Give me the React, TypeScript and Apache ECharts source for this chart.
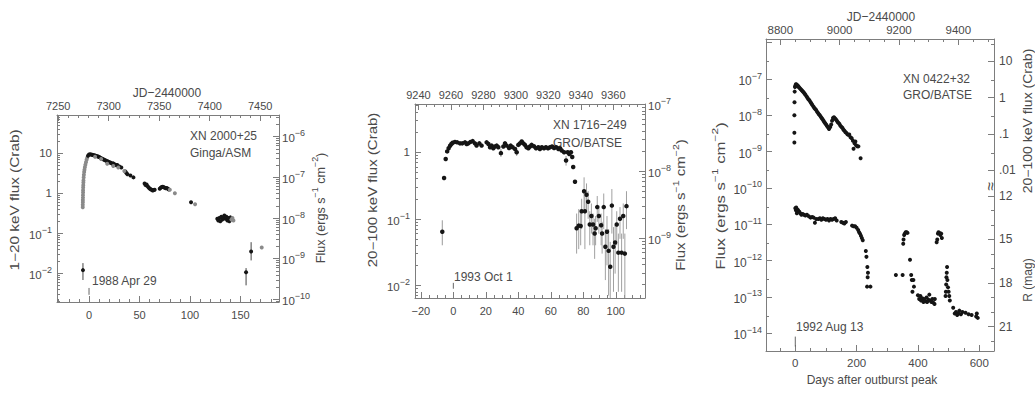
import React, { useEffect, useRef } from "react";
import * as echarts from "echarts";

// ---------------- Panel A: XN 2000+25 (Ginga/ASM) — days after 1988 Apr 29, 1–20 keV flux (Crab)
const gingaRise: number[][] = [
  [-6.2, 0.45], [-6.2, 0.52], [-6.1, 0.6], [-6.1, 0.68], [-6.0, 0.78], [-6.0, 0.9], [-5.9, 1.05],
  [-5.9, 1.2], [-5.8, 1.4], [-5.7, 1.6], [-5.6, 1.85], [-5.5, 2.1], [-5.3, 2.5], [-5.1, 2.9],
  [-4.8, 3.4], [-4.5, 3.9], [-4.1, 4.5], [-3.6, 5.2], [-3.0, 6.0], [-2.4, 6.9], [-1.8, 7.7],
];
const gingaDecay: number[][] = [
  [-1, 8.7], [0, 9.3], [1, 9.4], [2, 9.3], [3, 9.2], [4, 9.0], [5, 8.9], [6, 8.8], [7, 8.6], [8, 8.4],
  [9, 8.3], [10, 8.1], [11, 7.8], [12, 7.5], [13, 7.3], [14, 7.1], [15, 6.9], [16, 6.7], [17, 6.5],
  [18, 6.3], [19, 6.2], [20, 6.0], [21, 5.9], [22, 5.7], [23, 5.5], [24, 5.6], [25, 5.3], [26, 5.2],
  [27, 5.0], [28, 5.1], [30, 4.7], [32, 4.4], [36, 3.5], [37, 3.2], [38, 3.0], [41, 2.8], [44, 2.5],
  [55, 1.75], [56, 1.6], [57, 1.65], [58, 1.5], [59, 1.4], [60, 1.32], [61, 1.27], [62, 1.22],
  [63, 1.18], [64, 1.2], [65, 1.22], [70, 1.3], [71, 1.38], [72, 1.43], [73, 1.46], [74, 1.42],
  [75, 1.38], [76, 1.33], [77, 1.36], [78, 1.3], [79, 1.25], [101, 0.6],
  [127, 0.23], [128, 0.21], [129, 0.24], [130, 0.2], [131, 0.26], [132, 0.22], [133, 0.25],
  [134, 0.28], [135, 0.23], [136, 0.26], [137, 0.21], [138, 0.24], [139, 0.2], [140, 0.25],
];
const gingaGray: number[][] = [
  [6, 8.2], [12, 7.2], [18, 5.5], [24, 4.8], [29, 4.4], [35, 3.6], [80, 1.22], [85, 1.0],
  [105, 0.53], [141, 0.22], [142, 0.24], [143, 0.21], [171, 0.044],
];
// [day, flux, lower, upper]
const gingaFaint: number[][] = [
  [-6, 0.012, 0.0068, 0.018], [155.5, 0.0106, 0.005, 0.0135], [160.5, 0.035, 0.021, 0.06],
];
const gingaEpoch: number[][] = [[0, 0.0029, 0.0043]];

// ---------------- Panel B: XN 1716-249 (GRO/BATSE) — days after 1993 Oct 1, 20–100 keV flux (Crab)
const batseMain: number[][] = [
  [-6.8, 0.064], [-5.7, 0.41], [-4.7, 0.79], [-3.8, 1.03], [-2.9, 1.15], [-2, 1.25], [-1.2, 1.33],
  [-0.4, 1.39], [1, 1.43], [2.4, 1.41], [4.1, 1.36], [5.5, 1.36], [7.2, 1.41], [8.2, 1.33],
  [9.2, 1.36], [10.6, 1.43], [11.9, 1.47], [13.3, 1.36], [14.3, 1.26], [16, 1.36], [17.4, 1.26],
  [20.5, 1.41], [21.6, 1.33], [22.6, 1.19], [23.6, 1.26], [24.6, 1.15], [25.7, 1.22], [26.7, 1.26],
  [27.7, 1.19], [29.3, 0.97], [30.8, 1.22], [31.8, 1.36], [32.8, 1.26], [34.3, 1.16], [35.3, 1.26],
  [36.5, 1.19], [38, 1.12], [39, 1.0], [40, 1.29], [41, 1.36], [42.1, 1.45], [43.1, 1.36],
  [44.1, 1.29], [45.1, 1.19], [46.2, 1.15], [47.2, 1.22], [48.2, 1.29], [49.6, 1.23], [50.9, 1.15],
  [52.3, 1.19], [53.3, 1.12], [54.5, 1.19], [55.8, 1.15], [57, 1.19], [58.3, 1.15], [59.5, 1.19],
  [60.8, 1.22], [62, 1.16], [63.3, 1.19], [64.7, 1.12], [65.7, 1.15], [66.7, 1.06], [68.2, 1.0],
  [69.4, 0.75], [70.4, 1.0], [71.4, 0.94], [72.4, 1.0], [73.2, 0.85], [73.8, 0.6], [74.9, 0.36],
];
const batsePlateauErr: number[][] = [
  [-6.8, 0.04, 0.095], [29.3, 0.85, 1.12], [39, 0.88, 1.12], [69.4, 0.63, 0.88],
];
// [day, flux, lower, upper]
const batseDecline: number[][] = [
  [75.9, 0.072, 0.03, 0.12], [77.2, 0.079, 0.035, 0.14], [78.4, 0.078, 0.04, 0.13],
  [79.0, 0.13, 0.07, 0.2], [80.5, 0.26, 0.14, 0.42], [81.0, 0.13, 0.035, 0.22],
  [82.0, 0.23, 0.13, 0.34], [83.0, 0.18, 0.1, 0.26], [84.0, 0.082, 0.04, 0.13],
  [85.0, 0.11, 0.06, 0.17], [86.0, 0.082, 0.04, 0.12], [87.0, 0.06, 0.025, 0.1],
  [87.6, 0.072, 0.04, 0.11], [88.6, 0.15, 0.09, 0.22], [89.6, 0.11, 0.06, 0.16],
  [91.0, 0.08, 0.04, 0.12], [91.6, 0.06, 0.03, 0.09], [92.6, 0.15, 0.07, 0.24],
  [93.6, 0.038, 0.012, 0.07], [94.6, 0.064, 0.02, 0.11], [95.6, 0.033, 0.007, 0.07],
  [96.6, 0.019, 0.004, 0.045], [97.6, 0.158, 0.06, 0.28], [98.6, 0.038, 0.008, 0.075],
  [99.6, 0.044, 0.015, 0.08], [100.6, 0.082, 0.04, 0.13], [101.6, 0.031, 0.008, 0.06],
  [102.6, 0.1, 0.05, 0.15], [103.6, 0.031, 0.008, 0.06], [104.6, 0.11, 0.05, 0.17],
  [105.6, 0.03, 0.006, 0.06], [106.6, 0.155, 0.07, 0.26],
];
const batseEpoch: number[][] = [[0, 0.0089, 0.0109]];

// ---------------- Panel C: XN 0422+32 (GRO/BATSE) — days after 1992 Aug 13
// X-ray flux (ergs s^-1 cm^-2)
const groXray: number[][] = [
  [-3, 1.8e-9], [-3, 3.3e-9], [-3, 1.0e-8], [-2.5, 2.3e-8], [-2, 4.5e-8], [-1, 6.0e-8],
  [0, 6.4e-8], [2, 7.2e-8], [4, 7.1e-8], [6, 6.8e-8], [8, 6.5e-8], [10, 6.2e-8], [12, 5.9e-8],
  [15, 5.6e-8], [18, 5.2e-8], [21, 4.9e-8], [24, 4.6e-8], [27, 4.3e-8], [30, 4.0e-8], [33, 3.7e-8],
  [37, 3.3e-8], [40, 3.0e-8], [43, 2.75e-8], [46, 2.6e-8], [49, 2.35e-8], [52, 2.15e-8],
  [55, 1.95e-8], [59, 1.75e-8], [62, 1.6e-8], [65, 1.5e-8], [68, 1.4e-8], [71, 1.25e-8],
  [74, 1.17e-8], [77, 1.07e-8], [80, 1.0e-8], [83, 9.1e-9], [86, 8.5e-9], [89, 7.8e-9],
  [92, 7.1e-9], [95, 6.5e-9], [98, 6.0e-9], [101, 5.5e-9], [104, 5.0e-9], [107, 4.6e-9],
  [110, 4.2e-9], [114, 4.8e-9], [117, 5.6e-9], [120, 7.1e-9], [123, 8.5e-9], [126, 8.9e-9],
  [129, 8.3e-9], [132, 7.8e-9], [135, 7.2e-9], [138, 6.6e-9], [141, 6.2e-9], [144, 5.8e-9],
  [147, 5.2e-9], [151, 4.8e-9], [154, 4.5e-9], [157, 4.0e-9], [160, 3.8e-9], [163, 3.5e-9],
  [166, 3.3e-9], [170, 3.0e-9], [173, 2.9e-9], [176, 2.95e-9], [180, 2.5e-9], [184, 2.35e-9],
  [188, 2.0e-9], [190, 1.2e-9], [193, 1.7e-9], [196, 1.9e-9], [198, 1.5e-9], [202, 1.4e-9],
  [206, 1.4e-9], [213, 6.6e-10],
];
// optical R magnitude
const opticalR: number[][] = [
  [0, 12.85], [2, 13.0], [3, 12.8], [5, 13.2], [8, 12.95], [10, 13.05], [13, 13.1], [16, 13.2],
  [20, 13.3], [24, 13.25], [28, 13.3], [33, 13.35], [38, 13.3], [44, 13.4], [50, 13.5], [55, 13.45],
  [60, 13.5], [64, 13.85], [68, 13.6], [75, 13.6], [80, 13.55], [85, 13.65], [90, 13.55], [95, 13.6],
  [100, 13.65], [105, 13.6], [110, 13.7], [115, 13.6], [120, 13.65], [125, 13.6], [130, 13.55],
  [135, 13.7], [150, 13.8], [155, 13.85], [160, 13.9], [165, 13.8], [185, 14.05], [190, 14.1],
  [195, 14.1], [200, 14.2], [205, 14.35], [208, 14.5], [211, 14.6], [214, 14.75], [217, 14.9],
  [220, 15.05], [230, 15.8], [232, 16.2], [235, 16.9], [237, 17.3], [236, 17.6], [234, 18.25],
  [245, 18.25], [328, 17.45], [350, 17.45], [352, 15.3], [353, 15.0], [355, 14.7], [357, 14.6],
  [360, 14.5], [363, 14.5], [366, 14.55], [374, 16.4], [378, 17.45], [380, 17.8], [385, 17.8],
  [387, 18.25], [382, 18.6], [400, 18.85], [404, 19.1], [408, 18.9], [410, 19.2], [414, 19.05],
  [418, 19.3], [420, 19.1], [424, 19.25], [428, 19.0], [430, 19.3], [434, 19.15], [437, 18.8],
  [440, 19.2], [444, 19.3], [447, 19.1], [450, 19.35], [454, 19.45], [455, 19.1], [461, 15.2],
  [463, 15.0], [465, 14.6], [467, 14.5], [470, 14.55], [473, 14.7], [476, 14.6], [478, 14.9],
  [490, 18.9], [491, 18.6], [492, 18.1], [493, 17.6], [494, 17.3], [495, 16.9], [496, 17.8],
  [498, 18.3], [500, 18.6], [502, 18.9], [504, 19.2], [515, 19.7], [520, 20.1], [524, 20.0],
  [528, 20.2], [532, 20.1], [535, 19.9], [540, 20.15], [545, 20.0], [555, 20.05], [565, 20.15],
  [575, 20.2], [590, 20.3], [592, 20.1], [595, 20.4],
];
const groEpoch: number[][] = [[0, 4.3e-15, 8.1e-15]];

// ---------------- tick values
const aDayTicks = [0, 50, 100, 150];
const aJdTicks = [7250, 7300, 7350, 7400, 7450];
const aCrabTicks = [0.01, 0.1, 1, 10];
const aFluxTicks = [1e-10, 1e-9, 1e-8, 1e-7, 1e-6];
const bDayTicks = [-20, 0, 20, 40, 60, 80, 100];
const bJdTicks = [9240, 9260, 9280, 9300, 9320, 9340, 9360];
const bCrabTicks = [0.01, 0.1, 1];
const bFluxTicks = [1e-9, 1e-8, 1e-7];
const cDayTicks = [0, 200, 400, 600];
const cJdTicks = [8800, 9000, 9200, 9400];
const cFluxTicks = [1e-14, 1e-13, 1e-12, 1e-11, 1e-10, 1e-9, 1e-8, 1e-7];
const cCrabTicks = [10, 1, 0.1, 0.01];
const cMagTicks = [12, 15, 18, 21];

// ---------------- helpers
const FONT = '"Liberation Sans", Arial, Helvetica, sans-serif';
const TXT = "#4a4a4a";
const AX = "#7d7d7d";

const steps = (a: number, b: number, s: number) => {
  const r: number[] = [];
  for (let v = a; v <= b + 1e-9; v += s) r.push(Math.round(v * 1e6) / 1e6);
  return r;
};
const minus = (arr: number[], ex: number[]) => arr.filter((v) => !ex.some((e) => Math.abs(e - v) < 1e-9));
const logMinors = (n0: number, n1: number, mults: number[]) => {
  const r: number[] = [];
  for (let n = n0; n <= n1; n++) for (const m of mults) r.push(m * Math.pow(10, n));
  return r;
};
const ALL = [2, 3, 4, 5, 6, 7, 8, 9];

const makeRich = (size: number) => ({
  b: { fontSize: size, fontFamily: FONT, color: TXT, lineHeight: size + 4, verticalAlign: "bottom" },
  s: { fontSize: Math.round(size * 0.74), fontFamily: FONT, color: TXT, lineHeight: 6, verticalAlign: "top" },
});
const pow10 = (v: number) => {
  const e = Math.round(Math.log10(v));
  return `{b|10}{s|${e < 0 ? "\u2212" : ""}${Math.abs(e)}}`;
};
const crabFmt = (v: number) => {
  const e = Math.round(Math.log10(v));
  if (e === 1) return "10";
  if (e === 0) return "1";
  return pow10(v);
};
const numFmt = (v: number) => (v < 0 ? "\u2212" + Math.abs(v) : String(v));
const dotFmt = (v: number) => {
  const e = Math.round(Math.log10(v));
  return e === 1 ? "10" : e === 0 ? "1" : e === -1 ? ".1" : ".01";
};

function axisPair(o: {
  grid: number; pos: string; type: string; min: number; max: number; majors: number[];
  labels?: number[]; minors: number[]; fmt?: any; margin?: number; line?: boolean; inverse?: boolean; size?: number;
}) {
  const size = o.size ?? 11;
  const base: any = {
    type: o.type, gridIndex: o.grid, position: o.pos, min: o.min, max: o.max,
    inverse: !!o.inverse, splitLine: { show: false }, splitArea: { show: false },
  };
  if (o.type === "log") base.logBase = 10;
  const major = {
    ...base,
    axisLine: { show: o.line !== false, onZero: false, lineStyle: { color: AX, width: 1 } },
    axisTick: { show: true, inside: true, length: 6, customValues: o.majors, lineStyle: { color: AX, width: 1 } },
    axisLabel: o.labels
      ? { show: true, customValues: o.labels, margin: o.margin ?? 5, color: TXT, fontSize: size, fontFamily: FONT, formatter: o.fmt, rich: makeRich(size) }
      : { show: false },
  };
  const minor = {
    ...base,
    axisLine: { show: false, onZero: false },
    axisTick: { show: true, inside: true, length: 3, customValues: o.minors, lineStyle: { color: AX, width: 1 } },
    axisLabel: { show: false },
  };
  return [major, minor];
}

const errRender = (color: string) => (params: any, api: any) => {
  const x = api.value(0);
  const a = api.coord([x, api.value(1)]);
  const b = api.coord([x, api.value(2)]);
  const cs = params.coordSys;
  const clamp = (y: number) => Math.min(Math.max(y, cs.y), cs.y + cs.height);
  return {
    type: "line",
    silent: true,
    shape: { x1: a[0], y1: clamp(a[1]), x2: b[0], y2: clamp(b[1]) },
    style: { stroke: color, lineWidth: 1 },
  };
};

function buildOption() {
  const grids = [
    { left: 57, top: 115, width: 222, height: 187 },
    { left: 415, top: 104, width: 230, height: 194 },
    { left: 766, top: 39, width: 228, height: 312 },
  ].map((g) => ({ ...g, outerBoundsMode: "none", containLabel: false, show: false }));

  const xAxis = [
    // panel A: 0..3
    ...axisPair({ grid: 0, pos: "bottom", type: "value", min: -31.7, max: 188.1, majors: aDayTicks, labels: aDayTicks, minors: minus(steps(-30, 180, 10), aDayTicks), fmt: numFmt, margin: 7 }),
    ...axisPair({ grid: 0, pos: "top", type: "value", min: 7248.8, max: 7468.6, majors: aJdTicks, labels: aJdTicks, minors: minus(steps(7250, 7460, 10), aJdTicks), fmt: numFmt, margin: 4 }),
    // panel B: 4..7
    ...axisPair({ grid: 1, pos: "bottom", type: "value", min: -23.6, max: 118, majors: bDayTicks, labels: bDayTicks, minors: minus(steps(-20, 115, 5), bDayTicks), fmt: numFmt, margin: 7 }),
    ...axisPair({ grid: 1, pos: "top", type: "value", min: 9237.9, max: 9379.5, majors: bJdTicks, labels: bJdTicks, minors: minus(steps(9240, 9375, 5), bJdTicks), fmt: numFmt, margin: 4 }),
    // panel C: 8..11
    ...axisPair({ grid: 2, pos: "bottom", type: "value", min: -95.5, max: 648, majors: cDayTicks, labels: cDayTicks, minors: minus(steps(-50, 640, 50), cDayTicks), fmt: numFmt, margin: 6, size: 11.5 }),
    ...axisPair({ grid: 2, pos: "top", type: "value", min: 8751.8, max: 9520.3, majors: cJdTicks, labels: cJdTicks, minors: minus(steps(8800, 9500, 50), cJdTicks), fmt: numFmt, margin: 3, size: 11.5 }),
  ];

  const yAxis = [
    // panel A: 0..3
    ...axisPair({ grid: 0, pos: "left", type: "log", min: 0.001917, max: 90.7, majors: aCrabTicks, labels: aCrabTicks, minors: logMinors(-3, 1, ALL), fmt: crabFmt, margin: 5, size: 11.5 }),
    ...axisPair({ grid: 0, pos: "right", type: "log", min: 8.59e-11, max: 3.42e-6, majors: aFluxTicks, labels: aFluxTicks, minors: logMinors(-11, -6, ALL), fmt: pow10, margin: 3, size: 11.5 }),
    // panel B: 4..7
    ...axisPair({ grid: 1, pos: "left", type: "log", min: 0.006457, max: 5.31, majors: bCrabTicks, labels: bCrabTicks, minors: logMinors(-3, 0, ALL), fmt: crabFmt, margin: 5, size: 11.5 }),
    ...axisPair({ grid: 1, pos: "right", type: "log", min: 1.26e-10, max: 1.012e-7, majors: bFluxTicks, labels: bFluxTicks, minors: logMinors(-10, -8, ALL), fmt: pow10, margin: 3, size: 11.5 }),
    // panel C: 8..13
    ...axisPair({ grid: 2, pos: "left", type: "log", min: 3.25e-15, max: 1.265e-6, majors: [...cFluxTicks, 1e-6], labels: cFluxTicks, minors: logMinors(-15, -7, [3]), fmt: pow10, margin: 4, size: 12 }),
    ...axisPair({ grid: 2, pos: "right", type: "log", min: 1.064e-7, max: 41.4, majors: cCrabTicks, labels: cCrabTicks, minors: [30, 3, 0.3, 0.03], fmt: dotFmt, margin: 5, size: 12 }),
    ...axisPair({ grid: 2, pos: "right", type: "value", inverse: true, line: false, min: 1.205, max: 22.68, majors: cMagTicks, labels: cMagTicks, minors: [13, 14, 16, 17, 19, 20, 22], fmt: (v: number) => String(v), margin: 5, size: 12 }),
  ];

  const dot = (name: string, xi: number, yi: number, data: number[][], color: string, size = 4) => ({
    name, type: "scatter", xAxisIndex: xi, yAxisIndex: yi, data, symbol: "circle", symbolSize: size,
    itemStyle: { color, opacity: 1 }, z: 3, silent: true,
  });
  const bars = (name: string, xi: number, yi: number, data: number[][], color: string) => ({
    name, type: "custom", coordinateSystem: "cartesian2d", xAxisIndex: xi, yAxisIndex: yi, data,
    encode: { x: 0, y: [1, 2] }, renderItem: errRender(color), z: 2, silent: true,
  });

  const series = [
    dot("Ginga rise", 0, 0, gingaRise, "#8a8a8a"),
    dot("Ginga decay", 0, 0, gingaDecay, "#151515"),
    dot("Ginga grey", 0, 0, gingaGray, "#8a8a8a"),
    bars("Ginga faint err", 0, 0, gingaFaint.map((p) => [p[0], p[2], p[3]]), "#444"),
    dot("Ginga faint", 0, 0, gingaFaint.map((p) => [p[0], p[1]]), "#151515"),
    bars("Ginga epoch", 0, 0, gingaEpoch, "#666"),

    bars("BATSE plateau err", 4, 4, batsePlateauErr, "#9a9a9a"),
    dot("BATSE main", 4, 4, batseMain, "#151515", 4.5),
    bars("BATSE decline err", 4, 4, batseDecline.map((p) => [p[0], p[2], p[3]]), "#a0a0a0"),
    dot("BATSE decline", 4, 4, batseDecline.map((p) => [p[0], p[1]]), "#151515", 4.5),
    bars("BATSE epoch", 4, 4, batseEpoch, "#666"),

    dot("GRO X-ray", 8, 8, groXray, "#151515", 4),
    dot("Optical R", 8, 12, opticalR, "#151515", 4),
    bars("GRO epoch", 8, 8, groEpoch, "#666"),
  ];

  const txt = (text: string, x: number, y: number, opts: any = {}) => ({
    type: "text", x, y, rotation: opts.rot ?? 0, silent: true,
    scaleX: opts.sx ?? 1, scaleY: opts.sy ?? 1,
    style: {
      text, fill: TXT, fontSize: opts.size ?? 12, fontFamily: FONT,
      align: opts.align ?? "left", verticalAlign: "middle", rich: opts.rich,
    },
  });
  const TR = {
    t: { fontSize: 12, fontFamily: FONT, fill: TXT, color: TXT, lineHeight: 16, verticalAlign: "bottom" },
    u: { fontSize: 8.5, fontFamily: FONT, fill: TXT, color: TXT, lineHeight: 6, verticalAlign: "top" },
  };
  const fluxTitle = "{t|Flux (ergs s}{u|\u22121}{t| cm}{u|\u22122}{t|)}";
  const R90 = Math.PI / 2;

  const graphic = [
    // panel A
    txt("JD\u22122440000", 167, 93, { align: "center", sy: 1.1 }),
    txt("1\u221220 keV flux (Crab)", 15, 200, { align: "center", rot: R90, sx: 1.28 }),
    txt(fluxTitle, 319, 208, { align: "center", rot: R90, rich: TR, sx: 1.05 }),
    txt("XN 2000+25", 190, 136, { sy: 1.1 }),
    txt("Ginga/ASM", 190, 153, { sy: 1.1 }),
    txt("1988 Apr 29", 92, 281, { sy: 1.1 }),
    // panel B
    txt("20\u2212100 keV flux (Crab)", 373, 190, { align: "center", rot: R90, sx: 1.25 }),
    txt(fluxTitle, 679, 205, { align: "center", rot: R90, rich: TR, sx: 1.25 }),
    txt("XN 1716\u2212249", 553, 125, { sy: 1.1 }),
    txt("GRO/BATSE", 553, 143, { sy: 1.1 }),
    txt("1993 Oct 1", 454, 277, { sy: 1.1 }),
    // panel C
    txt("JD\u22122440000", 881, 17, { align: "center", sy: 1.1 }),
    txt("Days after outburst peak", 872, 380, { align: "center", sy: 1.1 }),
    txt(fluxTitle, 719, 196, { align: "center", rot: R90, rich: TR, sx: 1.4 }),
    txt("20\u2212100 keV flux (Crab)", 1028, 121, { align: "center", rot: R90, sx: 1.17 }),
    txt("R (mag)", 1028, 280, { align: "center", rot: R90 }),
    txt("XN 0422+32", 903, 79, { sy: 1.1 }),
    txt("GRO/BATSE", 903, 95, { sy: 1.1 }),
    txt("1992 Aug 13", 796, 327, { sy: 1.1 }),
    txt("\u2248", 990, 186, { align: "center", rot: R90, size: 16 }),
  ];

  return {
    animation: false,
    backgroundColor: "#ffffff",
    textStyle: { fontFamily: FONT },
    grid: grids,
    xAxis,
    yAxis,
    series,
    graphic,
  };
}

export default function App() {
  const ref = useRef<HTMLDivElement>(null);
  useEffect(() => {
    if (!ref.current) return;
    const chart = echarts.init(ref.current, null, { renderer: "svg" });
    chart.setOption(buildOption() as any);
    return () => chart.dispose();
  }, []);
  return (
    <div
      ref={ref}
      style={{ position: "absolute", left: 0, top: 0, width: 1035, height: 394, background: "#fff" }}
    />
  );
}
